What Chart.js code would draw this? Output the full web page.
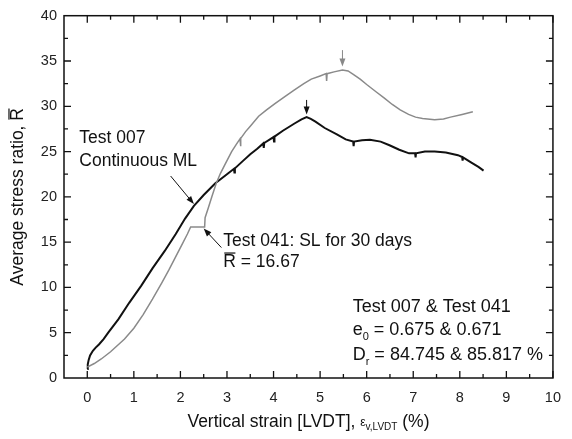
<!DOCTYPE html>
<html>
<head>
<meta charset="utf-8">
<script src="https://cdn.jsdelivr.net/npm/chart.js@4.4.1/dist/chart.umd.min.js"></script>
<style>
  html, body { margin: 0; padding: 0; background: #fff; }
  #wrap { width: 572px; height: 439px; }
</style>
</head>
<body>
<div id="wrap"><canvas id="stressChart" width="572" height="439"></canvas></div>
<script>
// Test 007 - continuous multi-stage loading (black)
var test007X = [0, 0.01, 0.03, 0.06, 0.12, 0.18, 0.25, 0.35, 0.45, 0.67, 0.9, 1.16, 1.4, 1.66, 1.9, 2.1, 2.29, 2.5, 2.75, 3.0, 3.15, 3.16, 3.17, 3.35, 3.5, 3.65, 3.78, 3.79, 3.8, 4.0, 4.01, 4.02, 4.2, 4.45, 4.6, 4.71, 4.8, 4.9, 5.1, 5.36, 5.55, 5.71, 5.72, 5.73, 5.9, 6.07, 6.3, 6.49, 6.7, 6.91, 7.04, 7.05, 7.06, 7.25, 7.46, 7.7, 7.96, 8.05, 8.06, 8.07, 8.24, 8.4, 8.51];
var test007Y = [1.0, 1.5, 2.0, 2.5, 3.0, 3.35, 3.7, 4.3, 5.0, 6.5, 8.3, 10.2, 12.1, 14.0, 15.9, 17.6, 19.0, 20.2, 21.5, 22.5, 23.1, 22.7, 23.15, 24.0, 24.7, 25.3, 25.9, 25.4, 25.95, 26.6, 26.1, 26.65, 27.3, 28.1, 28.55, 28.8, 28.6, 28.3, 27.6, 26.9, 26.35, 26.1, 25.6, 26.1, 26.25, 26.3, 26.1, 25.7, 25.2, 24.8, 24.8, 24.35, 24.8, 25.0, 25.0, 24.9, 24.6, 24.4, 24.0, 24.35, 23.8, 23.3, 22.9];

// Test 041 - SL for 30 days (grey)
var test041X = [0, 0.15, 0.3, 0.5, 0.8, 1.0, 1.2, 1.4, 1.6, 1.75, 1.9, 2.05, 2.15, 2.22, 2.52, 2.53, 2.6, 2.68, 2.77, 2.86, 2.95, 3.1, 3.2, 3.28, 3.29, 3.3, 3.4, 3.5, 3.68, 3.85, 4.03, 4.25, 4.45, 4.65, 4.81, 5.0, 5.13, 5.14, 5.15, 5.3, 5.48, 5.6, 5.72, 5.86, 6.0, 6.2, 6.38, 6.55, 6.72, 6.9, 7.05, 7.2, 7.46, 7.65, 7.8, 8.05, 8.28];
var test041Y = [1.2, 1.6, 2.1, 2.9, 4.3, 5.5, 7.0, 8.7, 10.5, 11.9, 13.4, 14.9, 15.9, 16.67, 16.67, 17.7, 18.8, 20.1, 21.5, 22.6, 23.5, 25.0, 25.8, 26.4, 25.6, 26.45, 27.2, 27.8, 28.9, 29.6, 30.3, 31.1, 31.8, 32.5, 33.0, 33.35, 33.6, 32.8, 33.6, 33.8, 34.0, 33.9, 33.5, 33.0, 32.4, 31.6, 30.9, 30.2, 29.6, 29.1, 28.8, 28.65, 28.5, 28.6, 28.8, 29.1, 29.4];

var xTicks = [0, 1, 2, 3, 4, 5, 6, 7, 8, 9, 10];
var yTicks = [0, 5, 10, 15, 20, 25, 30, 35, 40];

function toPoints(xs, ys) {
    return xs.map(function (x, i) { return { x: x, y: ys[i] }; });
}

var FONT = '"Liberation Sans", Arial, sans-serif';

function arrow(ctx, x1, y1, x2, y2, color) {
    var a = Math.atan2(y2 - y1, x2 - x1);
    ctx.strokeStyle = color;
    ctx.fillStyle = color;
    ctx.lineWidth = 1;
    ctx.beginPath();
    ctx.moveTo(x1, y1);
    ctx.lineTo(x2 - 5 * Math.cos(a), y2 - 5 * Math.sin(a));
    ctx.stroke();
    ctx.beginPath();
    ctx.moveTo(x2, y2);
    ctx.lineTo(x2 - 8 * Math.cos(a) + 3 * Math.sin(a), y2 - 8 * Math.sin(a) - 3 * Math.cos(a));
    ctx.lineTo(x2 - 8 * Math.cos(a) - 3 * Math.sin(a), y2 - 8 * Math.sin(a) + 3 * Math.cos(a));
    ctx.closePath();
    ctx.fill();
}

// text with optional subscript, returns end x
function subText(ctx, x, y, main, sub, rest, size) {
    ctx.font = size + 'px ' + FONT;
    ctx.fillText(main, x, y);
    x += ctx.measureText(main).width;
    if (sub) {
        ctx.font = Math.round(size * 0.62) + 'px ' + FONT;
        ctx.fillText(sub, x, y + size * 0.35);
        x += ctx.measureText(sub).width;
    }
    if (rest) {
        ctx.font = size + 'px ' + FONT;
        ctx.fillText(rest, x, y);
        x += ctx.measureText(rest).width;
    }
    return x;
}

function overlineR(ctx, x, y, size) {
    // "R" with a bar over it
    ctx.font = size + 'px ' + FONT;
    ctx.fillText('R', x, y);
    var w = ctx.measureText('R').width;
    ctx.fillRect(x + 1, y - size * 0.55, w - 1.5, 1.2);
    return x + w;
}

var decorPlugin = {
    id: 'decor',
    afterDraw: function (chart) {
        var ctx = chart.ctx;
        var a = chart.chartArea;
        var xs = chart.scales.x, ys = chart.scales.y;
        ctx.save();

        // frame
        ctx.strokeStyle = '#111';
        ctx.lineWidth = 1.5;
        ctx.strokeRect(a.left, a.top, a.right - a.left, a.bottom - a.top);

        // inward ticks on all four sides
        ctx.lineWidth = 1.3;
        ctx.beginPath();
        for (var v = 0; v <= 10; v += 0.5) {
            var px = xs.getPixelForValue(v);
            var len = (v % 1 === 0) ? 7 : 4;
            ctx.moveTo(px, a.bottom); ctx.lineTo(px, a.bottom - len);
            ctx.moveTo(px, a.top); ctx.lineTo(px, a.top + len);
        }
        for (var w = 2.5; w < 40; w += 2.5) {
            var py = ys.getPixelForValue(w);
            var l2 = (w % 5 === 0) ? 7 : 4;
            ctx.moveTo(a.left, py); ctx.lineTo(a.left + l2, py);
            ctx.moveTo(a.right, py); ctx.lineTo(a.right - l2, py);
        }
        ctx.stroke();

        // annotations
        ctx.fillStyle = '#111';
        ctx.textBaseline = 'middle';
        ctx.textAlign = 'left';
        var fs = 17.5;
        ctx.font = fs + 'px ' + FONT;
        var X = function (v) { return xs.getPixelForValue(v); };
        var Y = function (v) { return ys.getPixelForValue(v); };

        ctx.fillText('Test 007', X(-0.17), Y(26.45));
        ctx.fillText('Continuous ML', X(-0.17), Y(23.9));
        ctx.fillText('Test 041: SL for 30 days', X(2.92), Y(15.15));
        var ex = overlineR(ctx, X(2.92), Y(12.8), fs);
        ctx.font = fs + 'px ' + FONT;
        ctx.fillText(' = 16.67', ex, Y(12.8));

        var bx = X(5.7);
        var fb = 18;
        ctx.font = fb + 'px ' + FONT;
        ctx.fillText('Test 007 & Test 041', bx, Y(7.8));
        subText(ctx, bx, Y(5.27), 'e', '0', ' = 0.675 & 0.671', fb);
        subText(ctx, bx, Y(2.52), 'D', 'r', ' = 84.745 & 85.817 %', fb);

        arrow(ctx, X(1.79), Y(22.3), X(2.29), Y(19.2), '#111');
        arrow(ctx, X(2.88), Y(14.4), X(2.5), Y(16.5), '#111');
        arrow(ctx, X(5.48), Y(36.2), X(5.48), Y(34.4), '#888');
        arrow(ctx, X(4.71), Y(30.7), X(4.71), Y(29.1), '#111');

        // axis titles
        ctx.fillStyle = '#111';
        ctx.textBaseline = 'middle';
        var cx = (a.left + a.right) / 2;
        var t1 = 'Vertical strain [LVDT], ';
        ctx.font = '12px ' + FONT;
        var epsW = ctx.measureText('\u03b5').width;
        ctx.font = '10px ' + FONT;
        var subW = ctx.measureText('v,LVDT').width;
        ctx.font = fs + 'px ' + FONT;
        var total = ctx.measureText(t1).width + epsW + subW + ctx.measureText(' (%)').width;
        var tx = cx - total / 2, ty = 422;
        ctx.fillText(t1, tx, ty);
        tx += ctx.measureText(t1).width;
        ctx.font = '12px ' + FONT;
        ctx.fillText('\u03b5', tx, ty + 1);
        tx += epsW;
        ctx.font = '10px ' + FONT;
        ctx.fillText('v,LVDT', tx, ty + 5);
        tx += subW;
        ctx.font = fs + 'px ' + FONT;
        ctx.fillText(' (%)', tx, ty);

        ctx.save();
        ctx.translate(18, (a.top + a.bottom) / 2);
        ctx.rotate(-Math.PI / 2);
        ctx.font = fs + 'px ' + FONT;
        var yt = 'Average stress ratio, ';
        var yw = ctx.measureText(yt).width + ctx.measureText('R').width;
        ctx.fillText(yt, -yw / 2, 0);
        overlineR(ctx, -yw / 2 + ctx.measureText(yt).width, 0, fs);
        ctx.restore();

        ctx.restore();
    }
};

var ctx = document.getElementById('stressChart');
var myChart = new Chart(ctx, {
    type: 'scatter',
    data: {
        datasets: [{
            label: 'Test 041',
            data: toPoints(test041X, test041Y),
            showLine: true,
            borderColor: '#8a8a8a',
            borderWidth: 1.5,
            pointRadius: 0,
            tension: 0
        }, {
            label: 'Test 007',
            data: toPoints(test007X, test007Y),
            showLine: true,
            borderColor: '#111',
            borderWidth: 2,
            pointRadius: 0,
            tension: 0
        }]
    },
    options: {
        responsive: false,
        animation: false,
        layout: { padding: { top: 13, right: 8, left: 0, bottom: 0 } },
        plugins: {
            legend: { display: false },
            tooltip: { enabled: false }
        },
        scales: {
            x: {
                type: 'linear',
                min: -0.5,
                max: 10,
                afterBuildTicks: function (s) { s.ticks = xTicks.map(function (v) { return { value: v }; }); },
                afterFit: function (s) { s.height = 61; },
                grid: { display: false, drawTicks: false },
                border: { display: false },
                ticks: { padding: 11, color: '#222', font: { family: FONT, size: 14.5 } }
            },
            y: {
                type: 'linear',
                min: 0,
                max: 40,
                afterBuildTicks: function (s) { s.ticks = yTicks.map(function (v) { return { value: v }; }); },
                afterFit: function (s) { s.width = 64; },
                grid: { display: false, drawTicks: false },
                border: { display: false },
                ticks: { padding: 7, color: '#222', font: { family: FONT, size: 14.5 } }
            }
        }
    },
    plugins: [decorPlugin]
});
</script>
</body>
</html>
